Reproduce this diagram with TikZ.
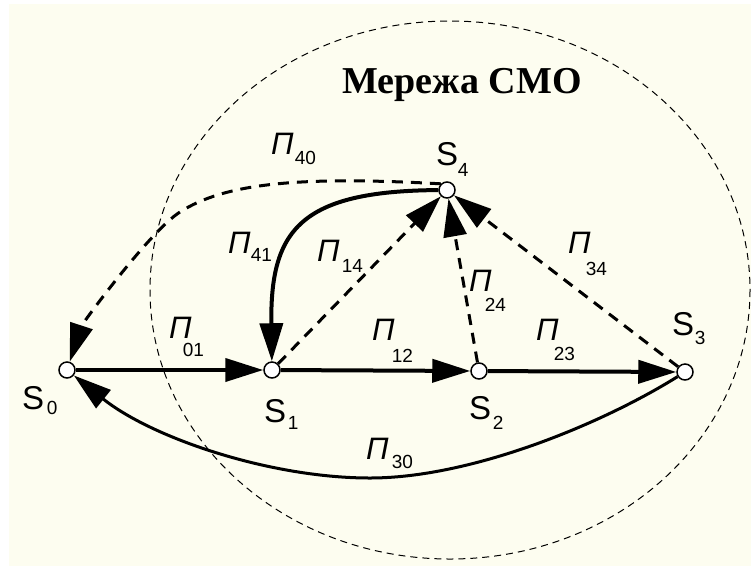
\documentclass[tikz,border=0pt]{standalone}
\usepackage{fontspec}
\setmainfont{Liberation Sans}
\newfontfamily\titlefont{Liberation Serif}
\usetikzlibrary{arrows.meta}
\definecolor{bgcream}{RGB}{253,253,240}
\newcommand\subsz{\fontsize{19}{19}\selectfont}
\newcommand\PL[3]{{\fontsize{31}{31}\selectfont\itshape П}\kern#2pt\raisebox{#3pt}{\subsz #1}}
\newcommand\SL[3]{{\fontsize{33}{33}\selectfont S}\kern#2pt\raisebox{#3pt}{\subsz #1}}
\begin{document}
\begin{tikzpicture}[x=1pt,y=-1pt,
  state/.style={circle,draw,fill=white,line width=1.5pt,minimum size=16pt,inner sep=0pt},
  tipped/.style={-{Triangle[length=38pt,width=23pt]}},
  solidedge/.style={tipped,line width=4pt},
  thinedge/.style={tipped,line width=3pt},
  dashedge/.style={tipped,line width=3pt,dash pattern=on 11pt off 8pt},
  lab/.style={anchor=base west,inner sep=0pt},
  boundary/.style={line width=1pt,dash pattern=on 7pt off 5pt}]
\fill[white] (0,0) rectangle (751,566);
\fill[bgcream] (9,4) rectangle (751,566);
\useasboundingbox (0,0) rectangle (751,566);
\draw[boundary] (450,290) ellipse [x radius=300, y radius=269];
% title
\node[anchor=base,inner sep=0pt,font=\titlefont\bfseries\fontsize{38}{38}\selectfont] (title) at (462,93) {Мережа СМО};
% states
\node[state] (S0) at (67,370) {};
\node[state] (S1) at (272,370) {};
\node[state] (S2) at (479,371) {};
\node[state] (S3) at (685,372) {};
\node[state] (S4) at (447,190) {};
\coordinate (c40) at (180,212);
\coordinate (c30) at (370,478);
% edges
\draw[solidedge] (S0) -- (S1);
\draw[solidedge] (S1) -- (S2);
\draw[solidedge] (S2) -- (S3);
\draw[solidedge] (S4) .. controls (300,191) and (270,230) .. (S1);
\draw[thinedge] (S3) .. controls (600,425) and (470,478) .. (c30) .. controls (270,478) and (152,438) .. (S0);
\draw[dashedge] (S4.135) .. controls (300,176) and (225,183) .. (c40) .. controls (150,231) and (82,324) .. (S0);
\draw[dashedge] (S1) -- (S4);
\draw[dashedge] (S2) -- (S4);
\draw[dashedge] (S3) -- (S4);
% state labels
\node[lab] (S0l) at (22,409) {\SL{0}{2.7}{-5.8}};
\node[lab] (S1l) at (264,422) {\SL{1}{1.7}{-7.8}};
\node[lab] (S2l) at (469,419) {\SL{2}{1.7}{-10.8}};
\node[lab] (S3l) at (672,335) {\SL{3}{0.7}{-9.8}};
\node[lab] (S4l) at (436,165) {\SL{4}{-0.3}{-11.8}};
% transition labels
\node[lab] (l40) at (271,154) {\PL{40}{1.1}{-10.8}};
\node[lab] (l41) at (228,253) {\PL{41}{0.1}{-8.8}};
\node[lab] (l14) at (317,261) {\PL{14}{2.1}{-11.8}};
\node[lab] (l24) at (469,291) {\PL{24}{-6.9}{-20.8}};
\node[lab] (l34) at (568,253) {\PL{34}{-4.9}{-22.8}};
\node[lab] (l01) at (169,338) {\PL{01}{-8.9}{-18.8}};
\node[lab] (l12) at (372,340) {\PL{12}{-2.9}{-22.8}};
\node[lab] (l23) at (536,340) {\PL{23}{-4.9}{-20.8}};
\node[lab] (l30) at (366,459) {\PL{30}{3.1}{-9.8}};
\end{tikzpicture}
\end{document}
